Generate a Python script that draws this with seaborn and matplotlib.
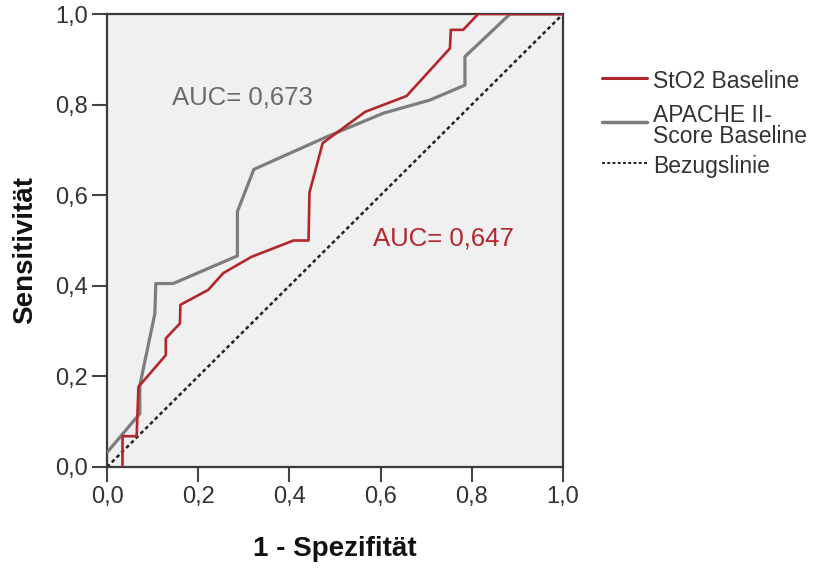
import matplotlib
matplotlib.use("Agg")
import matplotlib.pyplot as plt
from matplotlib.lines import Line2D
import numpy as np
import pandas as pd
import seaborn as sns

# ROC curve coordinates (1 - specificity, sensitivity)
sto2_fpr = [0.034, 0.034, 0.065, 0.069, 0.129, 0.129, 0.160, 0.161, 0.222, 0.255,
            0.317, 0.409, 0.442, 0.444, 0.473, 0.566, 0.657, 0.752, 0.754, 0.781,
            0.814, 1.0]
sto2_tpr = [0.0, 0.068, 0.068, 0.177, 0.247, 0.284, 0.317, 0.358, 0.391, 0.428,
            0.464, 0.500, 0.500, 0.606, 0.715, 0.784, 0.819, 0.924, 0.965, 0.965,
            1.0, 1.0]

apache_fpr = [0.0, 0.072, 0.072, 0.105, 0.107, 0.145, 0.286, 0.286, 0.322, 0.482,
              0.606, 0.708, 0.785, 0.785, 0.884, 1.0]
apache_tpr = [0.032, 0.118, 0.18, 0.339, 0.405, 0.405, 0.466, 0.564, 0.657, 0.729,
              0.781, 0.81, 0.843, 0.906, 1.0, 1.0]

ref_line = [0.0, 1.0]

series_names = ["StO2 Baseline", "APACHE II-\nScore Baseline", "Bezugslinie"]
auc_sto2 = 0.647
auc_apache = 0.673
ticks = [0.0, 0.2, 0.4, 0.6, 0.8, 1.0]
tick_labels = ["0,0", "0,2", "0,4", "0,6", "0,8", "1,0"]

RED = "#b3262b"
GRAY = "#7d7d7d"
INK = "#333333"
DOT = (0, (1.5, 1.2))

sns.set_theme(style="white")
plt.rcParams["font.family"] = ["Liberation Sans", "DejaVu Sans"]

df = pd.concat([
    pd.DataFrame({"fpr": sto2_fpr, "tpr": sto2_tpr, "Kurve": series_names[0]}),
    pd.DataFrame({"fpr": apache_fpr, "tpr": apache_tpr, "Kurve": series_names[1]}),
], ignore_index=True)

fig = plt.figure(figsize=(8.18, 5.70), dpi=100)
ax = fig.add_axes([107 / 818, 1 - 467 / 570, 456 / 818, 453 / 570])
ax.set_facecolor("#f0f0f0")

# reference diagonal
ax.plot(ref_line, ref_line, color="#222222", lw=1.8, linestyle=DOT, zorder=2)

sns.lineplot(data=df[df["Kurve"] == series_names[1]], x="fpr", y="tpr", sort=False,
             estimator=None, color=GRAY, lw=2.3, ax=ax, legend=False, zorder=3)
sns.lineplot(data=df[df["Kurve"] == series_names[0]], x="fpr", y="tpr", sort=False,
             estimator=None, color=RED, lw=1.9, ax=ax, legend=False, zorder=4)

ax.set_xlim(0, 1)
ax.set_ylim(0, 1)
ax.set_xticks(ticks)
ax.set_yticks(ticks)
ax.set_xticklabels(tick_labels)
ax.set_yticklabels(tick_labels)
ax.tick_params(axis="both", which="major", direction="out", length=11, width=1.5,
               color="#444444", labelsize=17, labelcolor=INK, pad=3,
               bottom=True, left=True)
for sp in ax.spines.values():
    sp.set_color("#3a3a3a")
    sp.set_linewidth(1.6)

ax.set_xlabel("1 - Spezifität", fontsize=20, fontweight="bold", color="#111111")
ax.set_ylabel("Sensitivität", fontsize=20, fontweight="bold", color="#111111")
ax.xaxis.label.set_va("center")
ax.yaxis.label.set_va("center")
ax.xaxis.set_label_coords(0.5, (467 - 549) / 453)
ax.yaxis.set_label_coords((25 - 107) / 456, (467 - 250) / 453)

ax.text(0.142, 0.815, f"AUC= {auc_apache:.3f}".replace(".", ","), color="#6a6a6a",
        fontsize=18.5, va="center", ha="left")
ax.text(0.583, 0.505, f"AUC= {auc_sto2:.3f}".replace(".", ","), color=RED,
        fontsize=18.5, va="center", ha="left")

# legend beside the plot
W, H = 818, 570
x0, x1, xt = 602 / W, 647 / W, 653 / W
fig.add_artist(Line2D([x0, x1], [1 - 77.5 / H] * 2, color=RED, lw=2.2))
fig.add_artist(Line2D([x0, x1], [1 - 121.5 / H] * 2, color=GRAY, lw=2.5))
fig.add_artist(Line2D([x0, x1], [1 - 163 / H] * 2, color="#222222", lw=1.4,
                      linestyle=DOT))
fig.text(xt, 1 - 88.3 / H, series_names[0], fontsize=16.5, color=INK, va="baseline")
apache_lines = series_names[1].split("\n")
fig.text(xt, 1 - 121.7 / H, apache_lines[0], fontsize=16.5, color=INK, va="baseline")
fig.text(xt, 1 - 143.3 / H, apache_lines[1], fontsize=16.5, color=INK, va="baseline")
fig.text(xt, 1 - 173.3 / H, series_names[2], fontsize=16.5, color=INK, va="baseline")

fig.savefig("out.png", dpi=100, facecolor="white")
